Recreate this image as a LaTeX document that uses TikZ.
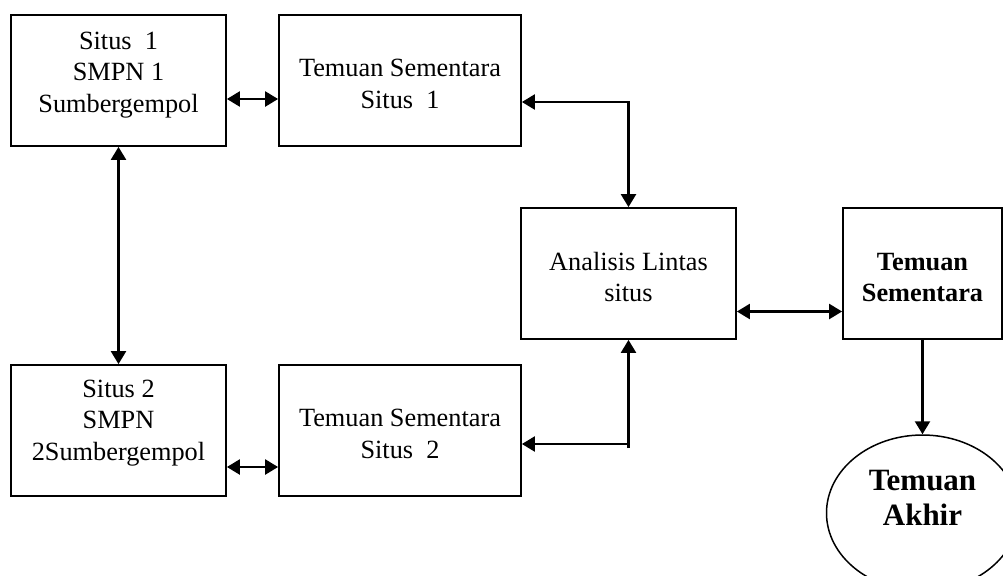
\documentclass[tikz,border=0pt]{standalone}
\usepackage{fontspec}
\setmainfont{Liberation Serif}
\usetikzlibrary{arrows.meta,shapes.geometric}

\tikzset{blk/.tip={Triangle[length=6.5pt,width=7.5pt]}}

\begin{document}
\begin{tikzpicture}[x=0.5pt,y=-0.5pt,
    box/.style={draw,line width=0.9pt,minimum height=65.5pt,inner sep=0pt},
    txt/.style={align=center,font=\fontsize{13.15}{15.75}\selectfont},
    bigtxt/.style={align=center,font=\fontsize{15.5}{17.5}\selectfont\bfseries},
    link/.style={line width=1.2pt,blk-blk},
    feed/.style={line width=1.2pt,-blk}]

        \useasboundingbox (0,0) rectangle (1003,575);

        %===========================
        % Boxes
        %===========================
        \draw node (situs1) at (118.5,80.5) [box,minimum width=107.5pt,
            label={[txt,yshift=2.75pt]center:Situs\ \ 1\\SMPN 1\\Sumbergempol}]{};
        \draw node (tsA) at (400,80.5) [box,minimum width=121pt,
            label={[txt,yshift=-1.75pt]center:Temuan Sementara\\Situs\ \ 1}]{};

        \draw node (situs2) at (118.5,430.5) [box,minimum width=107.5pt,
            label={[txt,yshift=3.75pt]center:Situs 2\\SMPN\\2Sumbergempol}]{};
        \draw node (tsB) at (400,430.5) [box,minimum width=121pt,
            label={[txt,yshift=-1.75pt]center:Temuan Sementara\\Situs\ \ 2}]{};

        \draw node (analisis) at (628.5,273.5) [box,minimum width=107.5pt,
            label={[txt,yshift=-1.75pt]center:Analisis Lintas\\situs}]{};
        \draw node (temuan) at (922.5,273.5) [box,minimum width=79.5pt,
            label={[txt,yshift=-2pt,font=\fontsize{13.15}{15.75}\selectfont\bfseries]center:Temuan\\Sementara}]{};

        \draw node (akhir) at (922.5,513) [ellipse,draw,line width=0.75pt,inner sep=0pt,
            minimum width=96pt,minimum height=78pt,
            label={[bigtxt,yshift=7.75pt]center:Temuan\\Akhir}]{};

        %===========================
        % Arrows
        %===========================
        \draw[link] ([yshift=-9.25pt]situs1.east) -- ([yshift=-9.25pt]tsA.west);
        \draw[link] (situs1) to (situs2);
        \draw[link] ([yshift=-18.25pt]situs2.east) -- ([yshift=-18.25pt]tsB.west);

        \draw[link] ([yshift=-10.75pt]tsA.east) -| (analisis.north);

        \path (tsB.east) ++(0,13.5) coordinate (kneeL);
        \coordinate (knee) at (kneeL -| analisis.south);
        \draw[feed] (knee) -- (kneeL);
        \draw[feed] ([yshift=-2pt]knee) -- (analisis.south);

        \draw[link] ([yshift=-19pt]analisis.east) -- ([yshift=-19pt]temuan.west);
        \draw[feed] (temuan.south) -- (akhir.north);
\end{tikzpicture}
\end{document}
